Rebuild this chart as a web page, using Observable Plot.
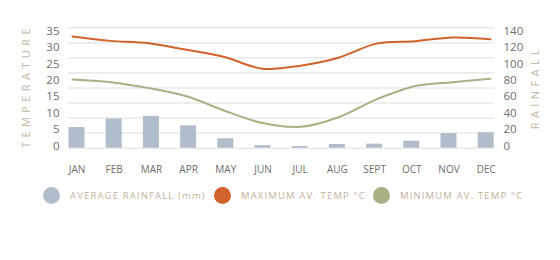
<!DOCTYPE html>
<html>
<head>
<meta charset="utf-8">
<script src="https://cdn.jsdelivr.net/npm/d3@7"></script>
<script src="https://cdn.jsdelivr.net/npm/@observablehq/plot@0.6"></script>
<style>
  body { margin: 0; background: #fff; }
  #chart { position: relative; width: 560px; height: 260px; font-family: "Open Sans", sans-serif; overflow: hidden; }
  #chart svg { position: absolute; left: 0; top: 0; overflow: visible; background: transparent; }
  .legend-item { position: absolute; top: 187px; height: 17px; display: flex; align-items: center; }
  .legend-swatch { width: 17px; height: 17px; border-radius: 50%; margin-right: 10px; }
  .legend-label { font-size: 9.5px; letter-spacing: 1.15px; color: #c2b39a; white-space: nowrap; }
</style>
</head>
<body>
<div id="chart"></div>
<script>
// Monthly climate figures
const months = ["JAN", "FEB", "MAR", "APR", "MAY", "JUN", "JUL", "AUG", "SEPT", "OCT", "NOV", "DEC"];
const rainfall = [24, 34, 37, 26, 11, 3, 2, 4.3, 4.7, 8, 17, 18];          // mm
const maxTemp = [32.5, 31.2, 30.5, 28.6, 26.5, 23.1, 24.0, 26.3, 30.4, 31.1, 32.2, 31.7]; // °C
const minTemp = [20.0, 19.2, 17.5, 15.1, 10.9, 7.3, 6.2, 9.0, 14.2, 18.0, 19.2, 20.2];     // °C

// Axis ticks (left: temperature, right: rainfall) and horizontal guide levels (mm)
const tempTicks = [0, 5, 10, 15, 20, 25, 30, 35];
const rainTicks = [0, 20, 40, 60, 80, 100, 120, 140];
const gridLevels = [0, 17.5, 35, 52.5, 70, 87.5, 105, 122.5, 140];

// Axis titles and legend entries
const axisTitles = ["TEMPERATURE", "RAINFALL"];
const legendLabels = ["AVERAGE RAINFALL (mm)", "MAXIMUM AV. TEMP °C", "MINIMUM AV. TEMP °C"];

const rainPerDegree = rainTicks[rainTicks.length - 1] / tempTicks[tempTicks.length - 1];

const colors = { rain: "#b1bdcb", max: "#d2622c", min: "#a9b084", grid: "#dedede", tick: "#6e6e6e", title: "#c6b9a2" };

const table = months.map((month, i) => ({ month, rain: rainfall[i], max: maxTemp[i], min: minTemp[i] }));

const chart = document.getElementById("chart");
const yData = { domain: [0, 35], range: [147.7, 27.3], axis: null };

// Layer 1: guide lines, rainfall bars and month labels
const bars = Plot.plot({
  width: 560, height: 175,
  marginLeft: 68, marginRight: 66, marginTop: 20, marginBottom: 6,
  style: { fontFamily: "Open Sans, sans-serif", background: "transparent" },
  x: { type: "band", domain: months, range: [68.5, 493.7], paddingInner: 0.57, paddingOuter: 0, round: false, axis: null },
  y: yData,
  marks: [
    Plot.ruleY(gridLevels, { y: d => d / rainPerDegree, stroke: colors.grid, strokeWidth: 1 }),
    Plot.barY(table, { x: "month", y: d => d.rain / rainPerDegree, fill: colors.rain }),
    Plot.text(months, { x: d => d, frameAnchor: "bottom", lineAnchor: "middle", fill: colors.tick, fontSize: 10 })
  ]
});

// Layer 2: temperature curves, running edge to edge
const lines = Plot.plot({
  width: 560, height: 175,
  marginLeft: 68, marginRight: 66, marginTop: 20, marginBottom: 6,
  style: { background: "transparent" },
  x: { type: "point", domain: months, range: [68, 494], padding: 0, axis: null },
  y: yData,
  marks: [
    Plot.lineY(table, { x: "month", y: "min", stroke: colors.min, strokeWidth: 2, curve: "catmull-rom" }),
    Plot.lineY(table, { x: "month", y: "max", stroke: colors.max, strokeWidth: 2, curve: "catmull-rom" })
  ]
});

// Layer 3: tick labels and axis titles
const axes = Plot.plot({
  width: 560, height: 175,
  marginLeft: 59, marginRight: 57, marginTop: 0, marginBottom: 0,
  style: { fontFamily: "Open Sans, sans-serif", background: "transparent" },
  y: { domain: [0, 35], range: [145.5, 30.5], axis: null },
  marks: [
    Plot.text(tempTicks, { y: d => d, text: d => String(d), frameAnchor: "left", textAnchor: "end", lineAnchor: "middle", fill: colors.tick, fontSize: 11.5 }),
    Plot.text(rainTicks, { y: d => d / rainPerDegree, text: d => String(d), frameAnchor: "right", textAnchor: "start", lineAnchor: "middle", fill: colors.tick, fontSize: 11.5 }),
    Plot.text([axisTitles[0]], { frameAnchor: "left", dx: -33, dy: -2, rotate: -90, textAnchor: "middle", lineAnchor: "middle", fill: colors.title, fontSize: 11 }),
    Plot.text([axisTitles[1]], { frameAnchor: "right", dx: 32, dy: -1, rotate: -90, textAnchor: "middle", lineAnchor: "middle", fill: colors.title, fontSize: 11 })
  ]
});

// Spread out the letters of the axis titles
d3.select(axes).selectAll("text")
  .filter(function () { return axisTitles.includes(this.textContent); })
  .attr("letter-spacing", 4.4)
  .style("letter-spacing", "4.4px");

chart.append(bars, lines, axes);

// Legend below the plot
const legendColors = [colors.rain, colors.max, colors.min];
const legendLefts = [43, 214, 373];
legendLabels.forEach((label, i) => {
  const item = document.createElement("div");
  item.className = "legend-item";
  item.style.left = legendLefts[i] + "px";
  const swatch = document.createElement("span");
  swatch.className = "legend-swatch";
  swatch.style.background = legendColors[i];
  const text = document.createElement("span");
  text.className = "legend-label";
  text.textContent = label;
  item.append(swatch, text);
  chart.append(item);
});
</script>
</body>
</html>
